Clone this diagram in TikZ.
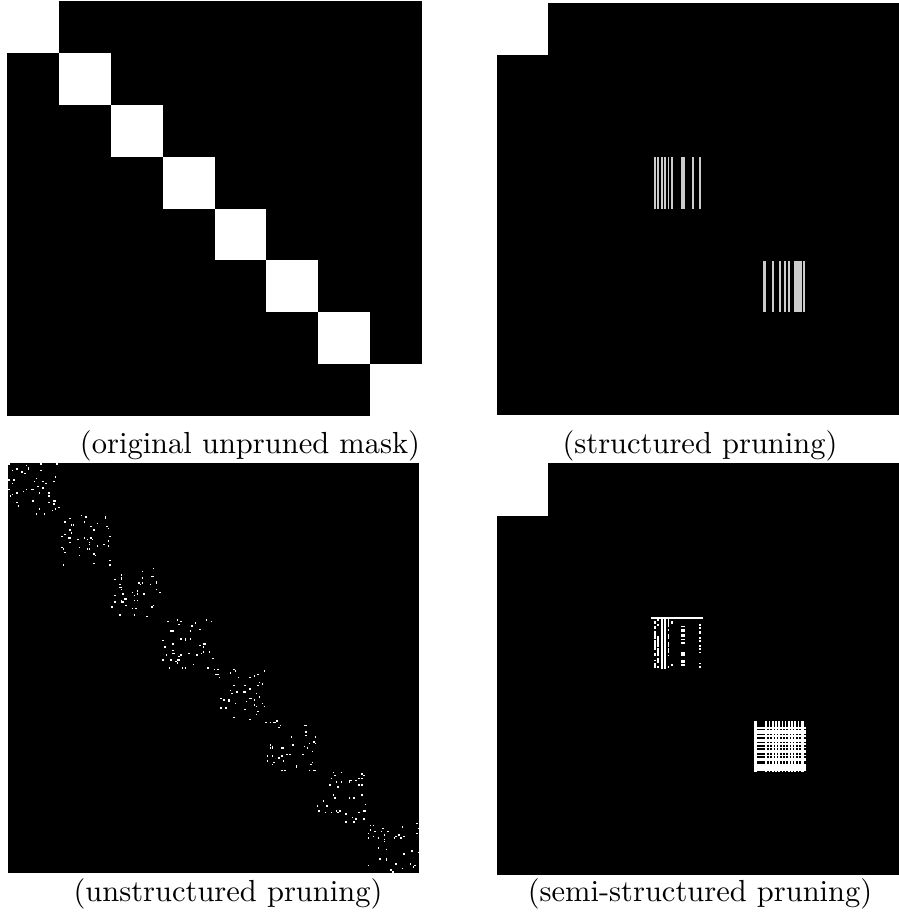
\documentclass[tikz,border=0pt]{standalone}
\begin{document}
\begin{tikzpicture}[x=0.328pt,y=-0.328pt,font=\fontsize{10}{12}\selectfont]
		\useasboundingbox (0,0) rectangle (899,922);
		\clip (0,0) rectangle (899,922);
		\pgfmathsetseed{4213}
		% original unpruned mask
		\fill[black] (7,1) rectangle (422,416);
		\foreach \b in {0,...,7}
			\fill[white] ({7+51.875*\b},{1+51.875*\b}) rectangle ++(51.875,51.875);
		\node[anchor=base] (capmask) at (250,453.4) {(original unpruned mask)};
		% structured pruning
		\fill[black] (496.7,3.3) rectangle (908,414.5);
		\fill[white] (496.7,3.3) rectangle ++(51.5,51.5);
		\foreach \a/\b in {654/656,657.3/659.3,661/662.7,664.3/666,667.7/669.3,671/673,681.3/684.7,691.7/693.7,698.7/700.7}
			\fill[black!20] (\a,157.3) rectangle (\b,209);
		\foreach \a/\b in {763.3/765.7,772/774.3,779/781.3,784/786.3,787.7/790,794.3/802,802.7/805.3}
			\fill[black!20] (\a,260.7) rectangle (\b,312.3);
		\node[anchor=base] (capstruct) at (700,453.4) {(structured pruning)};
		% unstructured pruning
		\fill[black] (8.3,463.3) rectangle (419.3,873.3);
		\foreach \b in {0,...,7}
			\foreach \k in {1,...,46} {
				\pgfmathrandominteger{\ci}{0}{31}
				\pgfmathrandominteger{\ri}{0}{31}
				\fill[white] ({8.3+51.375*\b+1.605*\ci},{463.3+51.375*\b+1.605*\ri}) rectangle ++(1.5,1.5);
			}
		\node[anchor=base] (capunstruct) at (228,901.5) {(unstructured pruning)};
		% semi-structured pruning
		\fill[black] (496.7,463.3) rectangle (908,875.3);
		\fill[white] (496.7,463.3) rectangle ++(51.5,52.3);
		\fill[white] (651,617.3) rectangle (702.7,619);
		\foreach \a/\b in {661/662.7,664.3/666}
			\fill[white] (\a,619) rectangle (\b,669.3);
		\foreach \a/\b/\p in {654/655.7/7,657.3/659.3/7,667.7/669.3/5,671/673/2,681.3/684.7/5,698.7/700.7/5}
			\foreach \r in {1,...,31} {
				\pgfmathrandominteger{\keep}{0}{9}
				\ifnum\keep<\p\relax
					\fill[white] (\a,{617.8+1.61*\r}) rectangle (\b,{617.8+1.61*(\r+1)});
				\fi
			}
		\foreach \c in {0,1,7,9,11,13,15,17,19,21,23,25,27,29,30}
			\fill[white] ({754.2+1.61*\c},720.8) rectangle ++(1.65,51.5);
		\foreach \r in {4,6,7,9,11,12,14,16,18,19,21,23,24,27,28,29,30}
			\fill[white] (754.2,{720.8+1.61*\r}) rectangle ++(51.5,1.65);
		\node[anchor=base] (capsemi) at (700,901.5) {(semi-structured pruning)};
		\end{tikzpicture}
\end{document}
